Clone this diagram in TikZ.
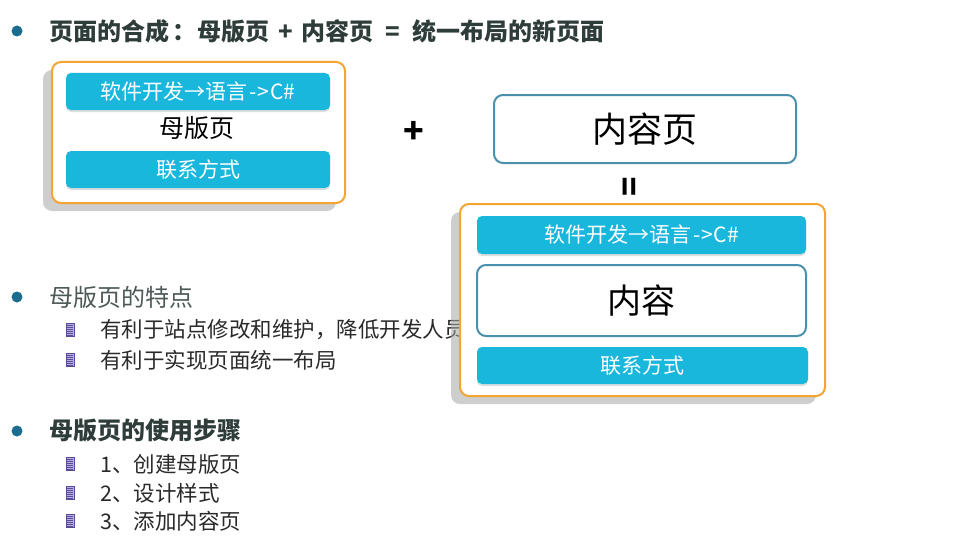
\documentclass[tikz,border=0pt]{standalone}
\usepackage{fontspec}
\setmainfont{Noto Sans CJK SC}
\usetikzlibrary{shadows}
\definecolor{cyanbar}{HTML}{1AB7DD}
\definecolor{orangeb}{HTML}{F2A531}
\definecolor{tealb}{HTML}{4A8FAB}
\definecolor{bullet}{HTML}{1B6C8F}
\definecolor{headtext}{HTML}{2E3C3A}
\definecolor{subtext}{HTML}{2A2A2A}
\definecolor{iconfill}{HTML}{B8ACE6}
\definecolor{iconline}{HTML}{5A4A9A}
\tikzset{
  fsz/.style={font=\fontsize{#1}{#1}\selectfont},
  outerbox/.style={draw=orangeb, line width=2pt, rounded corners=9pt, fill=white,
     drop shadow={shadow xshift=-9pt, shadow yshift=-8pt, fill=black!35, opacity=0.55}},
  bar/.style={fill=cyanbar, rounded corners=5pt, text=white, fsz=21,
     drop shadow={shadow xshift=0pt, shadow yshift=-2pt, fill=black!25, opacity=0.5}},
  tealbox/.style={draw=tealb, line width=2pt, rounded corners=9pt, fill=white, text=black},
  dotbullet/.style={circle, fill=bullet, inner sep=0pt, minimum size=11pt},
  headline/.style={anchor=west, text=headtext, inner sep=0pt},
  subline/.style={anchor=west, text=subtext, inner sep=0pt, fsz=21.5},
  docicon/.pic={
    \fill[iconfill] (-4,-6.5) rectangle (4,6.5);
    \foreach \yy in {-4.5,-2.5,...,5.5} \draw[iconline, line width=0.8pt] (-3,\yy) -- (3,\yy);
    \draw[iconline, line width=0.6pt] (-4,-6.5) rectangle (4,6.5);
  }
}
\begin{document}
\begin{tikzpicture}[x=1pt,y=-1pt]
\fill[white] (0,0) rectangle (977,551);
\useasboundingbox (0,0) rectangle (977,551);

% title
\node[dotbullet] (b1) at (17,31) {};
\node[headline, fsz=24] (title) at (49,31) {\bfseries 页面的合成\hspace{3pt}：\hspace{1pt}母版页\hspace{9pt}+\hspace{9pt}内容页\hspace{12pt}=\hspace{12pt}统一布局的新页面};

% master page
\node[outerbox, minimum width=293pt, minimum height=141pt] (master) at (198.5,132.5) {};
\node[bar, minimum width=264pt, minimum height=37pt] (mbar1) at (198,91.5) {软件开发→语言\hspace{2pt}-\hspace{1pt}>\hspace{1pt}C\#};
\node[fsz=25, text=black] (mlabel) at (197,128) {母版页};
\node[bar, minimum width=264pt, minimum height=37pt] (mbar2) at (198,169.5) {联系方式};

% plus
\node[fsz=34, text=black] (plus) at (414,132) {\bfseries +};

% content page
\node[tealbox, minimum width=302pt, minimum height=68pt, fsz=35] (content) at (645,129) {内容页};

% equals (vertical)
\node[fsz=32, rotate=90, text=black] (eq) at (632,187) {\bfseries =};

% second section text (partially hidden by result box)
\node[dotbullet] (b2) at (17,297) {};
\node[headline, fsz=24, text=headtext!85!white] (feat) at (49,297) {母版页的特点};
\pic at (70,330) {docicon};
\node[subline] (f1) at (100,330) {有利于站点修改和维护，降低开发人员};
\pic at (70,360) {docicon};
\node[subline] (f2) at (100,360) {有利于实现页面统一布局};

% result page
\node[outerbox, minimum width=365pt, minimum height=192pt] (result) at (642.5,300) {};
\node[bar, minimum width=329pt, minimum height=38pt] (rbar1) at (641.5,235) {软件开发→语言\hspace{2pt}-\hspace{1pt}>\hspace{1pt}C\#};
\node[tealbox, minimum width=329pt, minimum height=71pt, fsz=34] (rcontent) at (641.5,300.5) {内容};
\node[bar, minimum width=331pt, minimum height=37pt] (rbar2) at (642.5,365.5) {联系方式};

% steps
\node[dotbullet] (b3) at (17,431) {};
\node[headline, fsz=24] (steps) at (49,431) {\bfseries 母版页的使用步骤};
\pic at (70,464) {docicon};
\node[subline] (s1) at (100,464) {1、创建母版页};
\pic at (70,493) {docicon};
\node[subline] (s2) at (100,493) {2、设计样式};
\pic at (70,521) {docicon};
\node[subline] (s3) at (100,521) {3、添加内容页};
\end{tikzpicture}
\end{document}
